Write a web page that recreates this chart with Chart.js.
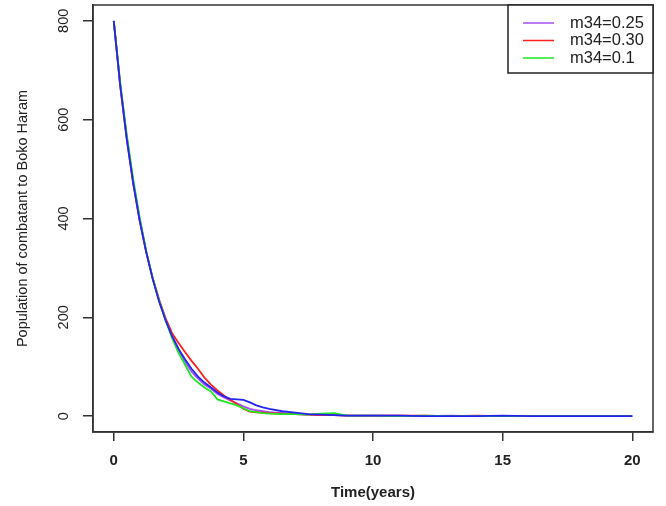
<!DOCTYPE html>
<html>
<head>
<meta charset="utf-8">
<script src="https://cdn.jsdelivr.net/npm/chart.js@4.4.0/dist/chart.umd.min.js"></script>
<style>
html, body { margin: 0; padding: 0; background: #fff; }
</style>
</head>
<body>
<canvas id="popChart" width="666" height="506"></canvas>
<script>
// time points (years) and simulated populations for each m34 value
var years = [0, 0.25, 0.5, 0.75, 1, 1.25, 1.5, 1.75, 2, 2.25, 2.5, 2.75, 3, 3.25, 3.5, 3.75,
    4, 4.25, 4.5, 4.75, 5, 5.25, 5.5, 5.75, 6, 6.5, 7, 7.5, 8, 8.5, 9,
    10, 11, 12, 13, 14, 15, 16, 17, 18, 19, 20];
var m34_025 = [800, 668, 560, 470, 396, 332, 279, 233, 196, 163, 134, 110, 90, 76, 64, 56,
    45, 38, 32, 26, 20, 15, 12, 10, 8, 6, 4, 3, 2, 2, 1,
    1, 1, 0, 1, 0, 0, 0, 0, 0, 0, 0];
var m34_030 = [800, 670, 566, 474, 398, 333, 280, 236, 198, 168, 148, 130, 112, 96, 78, 64,
    52, 42, 33, 24, 15, 9, 8, 7, 6, 5, 4, 3, 2, 2, 1,
    1, 1, 1, 0, 1, 0, 0, 0, 0, 0, 0];
var m34_01 = [800, 675, 570, 480, 402, 335, 280, 234, 194, 158, 128, 104, 80, 68, 58, 50,
    34, 30, 26, 22, 16, 10, 8, 6, 5, 4, 4, 3, 5, 6, 1,
    1, 0, 1, 0, 0, 0, 0, 0, 0, 0, 0];
var unlabelled = [800, 670, 562, 472, 396, 333, 278, 232, 194, 162, 136, 115, 96, 80, 68, 58,
    48, 40, 35, 34, 33, 28, 22, 18, 15, 10, 7, 4, 3, 2, 1,
    1, 1, 0, 0, 0, 1, 0, 0, 0, 0, 0];
var xTicks = [0, 5, 10, 15, 20];
var yTicks = [0, 200, 400, 600, 800];

function pts(vals) {
    return vals.map(function (v, i) { return { x: years[i], y: v }; });
}

function line(label, vals, color, order) {
    return {
        label: label,
        data: pts(vals),
        borderColor: color,
        borderWidth: 1.8,
        pointRadius: 0,
        tension: 0,
        fill: false,
        order: order
    };
}

// box around plot + R-style rotated y labels
var frame = {
    id: 'frame',
    afterDraw: function (chart) {
        var ctx = chart.ctx, a = chart.chartArea, ys = chart.scales.y;
        ctx.save();
        ctx.strokeStyle = '#333';
        ctx.lineWidth = 1.5;
        ctx.strokeRect(a.left, a.top, a.right - a.left, a.bottom - a.top);
        ctx.fillStyle = '#222';
        ctx.font = '14.5px "Liberation Sans", Arial, sans-serif';
        ctx.textAlign = 'center';
        ctx.textBaseline = 'middle';
        yTicks.forEach(function (v) {
            ctx.save();
            ctx.translate(a.left - 29, ys.getPixelForValue(v));
            ctx.rotate(-Math.PI / 2);
            ctx.fillText(String(v), 0, 0);
            ctx.restore();
        });
        ctx.restore();
    }
};

var boxLegend = {
    id: 'boxLegend',
    afterDraw: function (chart) {
        var ctx = chart.ctx, a = chart.chartArea;
        var w = 145, h = 68, x0 = a.right - w, y0 = a.top;
        ctx.save();
        ctx.fillStyle = '#fff';
        ctx.fillRect(x0, y0, w, h);
        ctx.strokeStyle = '#222';
        ctx.lineWidth = 1.5;
        ctx.strokeRect(x0, y0, w, h);
        ctx.font = '16.5px "Liberation Sans", Arial, sans-serif';
        ctx.textBaseline = 'middle';
        ctx.fillStyle = '#222';
        chart.data.datasets.slice(0, 3).forEach(function (ds, i) {
            var yy = y0 + 18 + i * 17.5;
            ctx.strokeStyle = ds.borderColor;
            ctx.lineWidth = 1.5;
            ctx.beginPath();
            ctx.moveTo(x0 + 15, yy);
            ctx.lineTo(x0 + 46, yy);
            ctx.stroke();
            ctx.fillText(ds.label, x0 + 62, yy);
        });
        ctx.restore();
    }
};

new Chart(document.getElementById('popChart').getContext('2d'), {
    type: 'line',
    data: {
        datasets: [
            line('m34=0.25', m34_025, '#a64ff2', 4),
            line('m34=0.30', m34_030, '#ff2020', 3),
            line('m34=0.1', m34_01, '#22e622', 2),
            line('', unlabelled, '#2424f0', 1)
        ]
    },
    options: {
        responsive: false,
        animation: false,
        layout: { padding: { top: 5, right: 13, left: 0, bottom: 0 } },
        plugins: {
            legend: { display: false },
            tooltip: { enabled: false }
        },
        scales: {
            x: {
                type: 'linear',
                min: -0.8,
                max: 20.8,
                afterBuildTicks: function (s) { s.ticks = xTicks.map(function (v) { return { value: v }; }); },
                afterFit: function (s) { s.height = 74; },
                border: { color: '#333', width: 1.5 },
                grid: { drawOnChartArea: false, drawTicks: true, tickLength: 9, tickColor: '#333', lineWidth: 1.5 },
                ticks: {
                    color: '#222',
                    padding: 11,
                    maxRotation: 0,
                    font: { family: '"Liberation Sans", Arial, sans-serif', size: 15, weight: 'bold' }
                },
                title: {
                    display: true,
                    text: 'Time(years)',
                    color: '#222',
                    padding: { top: 12, bottom: 4 },
                    font: { family: '"Liberation Sans", Arial, sans-serif', size: 15, weight: 'bold' }
                }
            },
            y: {
                min: -32,
                max: 832,
                afterBuildTicks: function (s) { s.ticks = yTicks.map(function (v) { return { value: v }; }); },
                afterFit: function (s) { s.width = 93; },
                border: { color: '#333', width: 1.5 },
                grid: { drawOnChartArea: false, drawTicks: true, tickLength: 10, tickColor: '#333', lineWidth: 1.5 },
                ticks: { display: false },
                title: {
                    display: true,
                    text: 'Population of combatant to Boko Haram',
                    color: '#222',
                    padding: { top: 14 },
                    font: { family: '"Liberation Sans", Arial, sans-serif', size: 14.5 }
                }
            }
        }
    },
    plugins: [frame, boxLegend]
});
</script>
</body>
</html>
